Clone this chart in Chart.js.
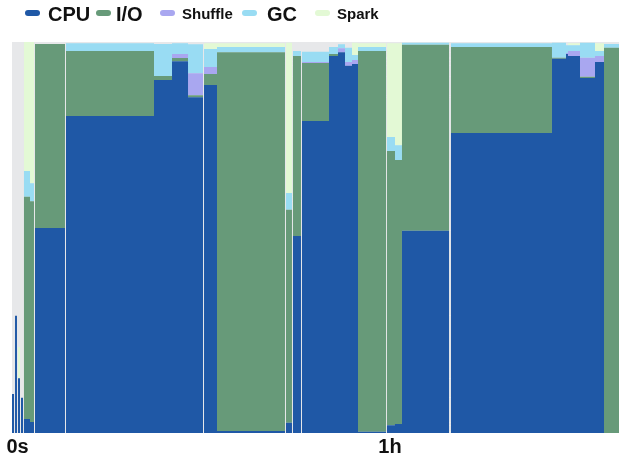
<!DOCTYPE html>
<html>
<head>
<meta charset="utf-8">
<script src="https://cdn.jsdelivr.net/npm/chart.js@4"></script>
<style>
  html, body { margin: 0; padding: 0; background: #fff; }
  #wrap { position: relative; width: 619px; height: 461px; }
  #legend { position: absolute; left: 0; top: 0; width: 619px; height: 30px; font-family: "Liberation Sans", Arial, sans-serif; font-weight: bold; color: #111; }
  .lg-box { position: absolute; width: 15px; height: 6px; border-radius: 3px; }
  .lg-txt { position: absolute; line-height: 1; white-space: nowrap; }
</style>
</head>
<body>
<div id="wrap">
  <canvas id="chart" width="619" height="461"></canvas>
  <div id="legend"></div>
</div>
<script>
// start of each time slice, in minutes; the last slice ends at endMinute
const sliceStart = [0, 0.32, 0.48, 0.79, 0.95, 1.27, 1.43, 1.75, 1.90, 2.86, 3.49, 3.65, 8.41,
  8.57, 22.54, 25.40, 27.94, 30.32, 30.48, 32.54, 43.33, 43.49, 44.44, 44.60, 45.87, 46.03, 50.32,
  51.75, 52.86, 53.97, 54.92, 59.37, 59.52, 60.79, 61.90, 69.37, 69.68, 85.71, 87.94, 88.25, 90.16,
  92.54, 93.97];
const endMinute = 96.35;

// share of time (%) per slice
const cpu = [10, 0, 30, 0, 14, 0, 9, 0, 3.6, 2.8, 0, 52.4, 0, 81.1, 90.3, 95.1, 85.9, 0, 89.0, 0.5, 0, 2.6, 0,
  50.4, 0, 79.8, 96.4, 97.4, 93.9, 94.4, 0.3, 0, 2.0, 2.3, 51.7, 0, 76.7, 95.7, 96.9, 96.4, 90.8, 94.9, 0];
const io = [0, 0, 0, 0, 0, 0, 0, 0, 56.8, 56.5, 0, 47.1, 0, 16.6, 1.0, 0.8, 0.5, 0, 2.8, 96.9, 0, 54.5, 0,
  46.0, 0, 14.8, 0.5, 0, 0, 0, 97.4, 0, 70.1, 67.5, 47.6, 0, 22.0, 0.3, 0, 0, 0.3, 0, 98.5];
const shuffle = [0, 0, 0, 0, 0, 0, 0, 0, 0, 0, 0, 0, 0, 0, 0, 1.0, 5.6, 0, 1.8, 0, 0, 0, 0,
  0, 0, 0.3, 0, 1.0, 1.0, 1.0, 0, 0, 0, 0, 0, 0, 0, 0, 0.3, 1.3, 4.9, 1.5, 0];
const gc = [0, 0, 0, 0, 0, 0, 0, 0, 6.6, 4.6, 0, 0, 0, 2.0, 8.2, 2.8, 7.4, 0, 4.6, 1.3, 0, 4.3, 0,
  1.3, 0, 2.6, 1.8, 1.0, 3.6, 1.3, 1.0, 0, 3.6, 3.8, 0.5, 0, 1.0, 3.8, 2.0, 1.5, 3.8, 1.3, 1.0];
const spark = [0, 0, 0, 0, 8, 0, 0, 0, 33.0, 36.1, 0, 0, 0, 0, 0, 0, 0, 0, 1.5, 1.0, 0, 38.4, 0,
  0, 0, 0, 0, 0, 0, 3.1, 1.0, 0, 24.0, 26.1, 0, 0, 0, 0, 0, 0.5, 0, 2.0, 0];

const seriesNames = ['CPU', 'I/O', 'Shuffle', 'GC', 'Spark'];
const seriesValues = [cpu, io, shuffle, gc, spark];
const seriesColors = ['#1f58a6', '#679a79', '#a9a7f0', '#99dcf3', '#e3f9d5'];

const tickMinutes = [0, 60];
const tickLabels = ['  0s', '1h'];

// legend: text size differs per entry in the reference
const legendLayout = [
  { box: 25, text: 48, size: 20 },
  { box: 96, text: 116, size: 20 },
  { box: 160, text: 182, size: 15 },
  { box: 242, text: 267, size: 20 },
  { box: 315, text: 337, size: 15 },
];

function stepPoints(values) {
  const pts = sliceStart.map((x, i) => ({ x: x, y: values[i] }));
  pts.push({ x: endMinute, y: values[values.length - 1] });
  return pts;
}

function buildLegend() {
  const el = document.getElementById('legend');
  seriesNames.forEach((name, i) => {
    const l = legendLayout[i];
    const box = document.createElement('div');
    box.className = 'lg-box';
    box.style.left = l.box + 'px';
    box.style.top = '10px';
    box.style.background = seriesColors[i];
    el.appendChild(box);
    const t = document.createElement('div');
    t.className = 'lg-txt';
    t.textContent = name;
    t.style.left = l.text + 'px';
    t.style.fontSize = l.size + 'px';
    t.style.top = (l.size === 20 ? 4 : 6) + 'px';
    el.appendChild(t);
  });
}

const plotBackground = {
  id: 'plotBackground',
  beforeDatasetsDraw(chart) {
    const { ctx, chartArea: a } = chart;
    ctx.save();
    ctx.fillStyle = '#e7e8ea';
    ctx.fillRect(a.left, a.top, a.right - a.left, a.bottom - a.top);
    ctx.restore();
  },
};

new Chart(document.getElementById('chart'), {
  type: 'line',
  data: {
    datasets: seriesValues.map((vals, i) => ({
      label: seriesNames[i],
      data: stepPoints(vals),
      backgroundColor: seriesColors[i],
      borderColor: seriesColors[i],
      borderWidth: 0,
      pointRadius: 0,
      stepped: true,
      fill: i === 0 ? 'origin' : '-1',
    })),
  },
  options: {
    responsive: false,
    devicePixelRatio: 1,
    animation: false,
    layout: { padding: { top: 42, left: 12, right: 0, bottom: 0 } },
    scales: {
      x: {
        type: 'linear',
        min: 0,
        max: endMinute,
        grid: { display: false, drawTicks: false },
        border: { display: false },
        afterBuildTicks: (scale) => {
          scale.ticks = tickMinutes.map((v) => ({ value: v }));
        },
        afterFit: (scale) => {
          scale.paddingLeft = 0;
        },
        ticks: {
          autoSkip: false,
          maxRotation: 0,
          color: '#111',
          padding: 2,
          font: { family: '"Liberation Sans", Arial, sans-serif', size: 20, weight: 'bold' },
          callback: (v) => tickLabels[tickMinutes.indexOf(v)] ?? '',
        },
      },
      y: { stacked: true, min: 0, max: 100, display: false },
    },
    plugins: { legend: { display: false }, tooltip: { enabled: false } },
  },
  plugins: [plotBackground],
});

buildLegend();
</script>
</body>
</html>
